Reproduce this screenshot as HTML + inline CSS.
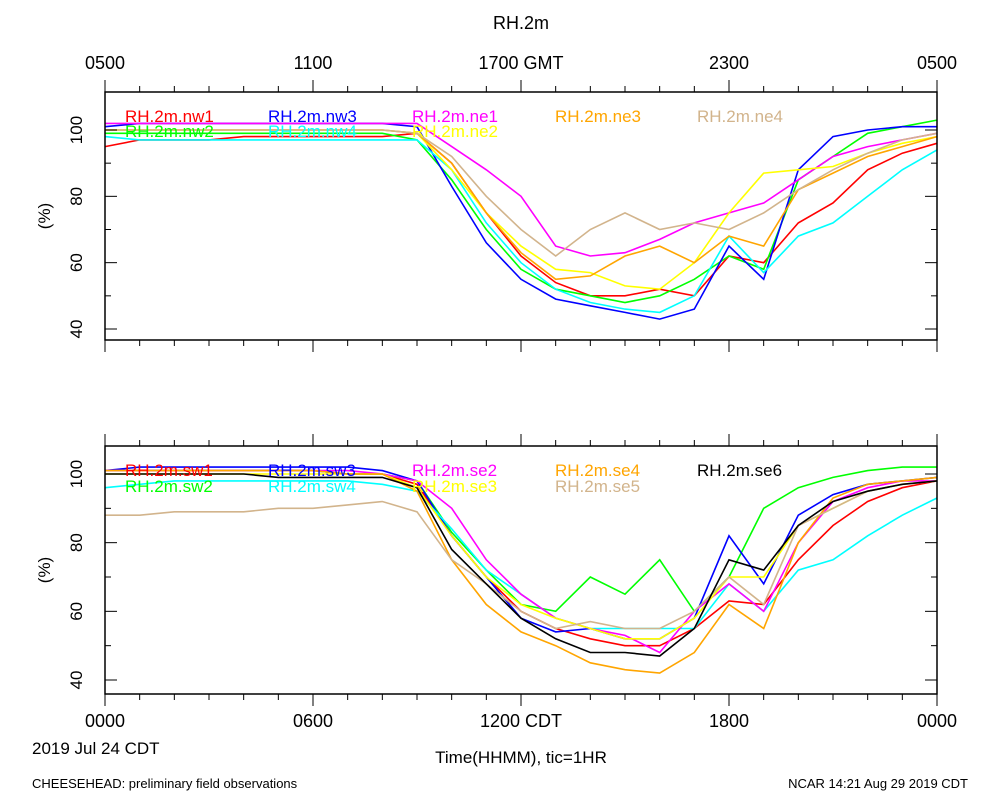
<!DOCTYPE html>
<html><head><meta charset="utf-8">
<style>
body{margin:0;background:#fff;}
svg{display:block;font-family:"Liberation Sans",sans-serif;}
</style></head>
<body>
<svg id="chart" width="1000" height="800">
<rect width="1000" height="800" fill="#fff"/>
<text x="521" y="29" font-size="18" text-anchor="middle">RH.2m</text>
<text x="32" y="754" font-size="17">2019 Jul 24 CDT</text>
<text x="521" y="763" font-size="17" text-anchor="middle">Time(HHMM), tic=1HR</text>
<text x="32" y="788" font-size="13">CHEESEHEAD: preliminary field observations</text>
<text x="968" y="788" font-size="13" text-anchor="end">NCAR 14:21 Aug 29 2019 CDT</text>
</svg>
<script>
const hours=[0,1,2,3,4,5,6,7,8,9,10,11,12,13,14,15,16,17,18,19,20,21,22,23,24];
const topNames=["RH.2m.nw1","RH.2m.nw2","RH.2m.nw3","RH.2m.nw4","RH.2m.ne1","RH.2m.ne2","RH.2m.ne3","RH.2m.ne4"];
const nw1=[95,97,97,97,98,98,98,98,98,99,90,75,62,54,50,50,52,50,62,60,72,78,88,93,96];
const nw2=[99,99,99,99,99,99,99,99,99,97,85,70,58,52,50,48,50,55,62,58,85,92,99,101,103];
const nw3=[101,102,102,102,102,102,102,102,102,101,83,66,55,49,47,45,43,46,65,55,88,98,100,101,101];
const nw4=[98,97,97,97,97,97,97,97,97,97,88,72,60,52,48,46,45,50,68,57,68,72,80,88,94];
const ne1=[102,102,102,102,102,102,102,102,102,102,95,88,80,65,62,63,67,72,75,78,85,92,95,97,99];
const ne2=[100,100,100,100,100,100,100,100,100,99,88,75,65,58,57,53,52,60,75,87,88,89,93,96,98];
const ne3=[100,100,100,100,100,100,100,100,100,99,90,75,63,55,56,62,65,60,68,65,82,87,92,95,98];
const ne4=[100,100,100,100,100,100,100,100,100,99,92,80,70,62,70,75,70,72,70,75,82,88,93,97,99];
const botNames=["RH.2m.sw1","RH.2m.sw2","RH.2m.sw3","RH.2m.sw4","RH.2m.se2","RH.2m.se3","RH.2m.se4","RH.2m.se5","RH.2m.se6"];
const sw1=[101,101,101,101,101,101,101,100,100,97,82,70,60,55,52,50,50,55,63,62,75,85,92,96,98];
const sw2=[101,101,101,101,101,101,101,100,100,98,83,72,62,60,70,65,75,60,70,90,96,99,101,102,102];
const sw3=[101,102,102,102,102,102,102,102,101,98,82,70,58,54,55,52,52,58,82,68,88,94,97,98,99];
const sw4=[96,97,98,98,98,98,98,98,97,95,84,72,65,58,55,55,55,55,68,60,72,75,82,88,93];
const se2=[101,101,101,101,101,101,101,101,100,98,90,75,65,58,55,53,48,60,68,60,80,92,96,98,98];
const se3=[100,100,100,100,100,100,100,100,100,96,82,70,62,58,55,52,52,58,70,70,85,90,95,97,98];
const se4=[101,101,101,101,101,101,101,100,100,95,75,62,54,50,45,43,42,48,62,55,80,93,97,98,99];
const se5=[88,88,89,89,89,90,90,91,92,89,75,68,60,55,57,55,55,60,70,62,85,90,95,97,98];
const se6=[100,100,100,100,100,99,99,99,99,96,78,68,58,52,48,48,47,55,75,72,85,92,95,97,98];
const yTicks=[40,60,80,100];
const topXLabels=["0500","1100","1700 GMT","2300","0500"];
const botXLabels=["0000","0600","1200 CDT","1800","0000"];

const NS="http://www.w3.org/2000/svg";
const svg=document.getElementById('chart');
function mk(tag,attrs,parent){const e=document.createElementNS(NS,tag);for(const k in attrs)e.setAttribute(k,attrs[k]);(parent||svg).appendChild(e);return e;}
const X0=105,X1=937;
function xs(h){return X0+(X1-X0)*h/24;}

function panel(cfg){
  const g=mk('g',{});
  
  
  const ys=v=>cfg.y40+(cfg.y100-cfg.y40)*(v-40)/60;
  // series
  cfg.series.forEach((s,i)=>{
    const d=hours.map((h,j)=>(j?'L':'M')+xs(h).toFixed(1)+' '+ys(s.vals[j]).toFixed(1)).join(' ');
    const p=mk('path',{d:d,fill:'none',stroke:s.color,'stroke-width':1.6},g);
    
    
  });
  // box
  const b=mk('rect',{x:X0,y:cfg.top,width:X1-X0,height:cfg.bot-cfg.top,fill:'none',stroke:'#000','stroke-width':1.5},g);
  
  
  // x ticks
  for(let h=0;h<=24;h++){
    const L=h%6===0?12:6,x=xs(h);
    mk('line',{x1:x,x2:x,y1:cfg.top,y2:cfg.top-L,stroke:'#000'},g);
    mk('line',{x1:x,x2:x,y1:cfg.bot,y2:cfg.bot+L,stroke:'#000'},g);
  }
  // y ticks
  for(let v=40;v<=100;v+=10){
    const L=v%20===0?12:6,y=ys(v);
    mk('line',{x1:X0,x2:X0+L,y1:y,y2:y,stroke:'#000'},g);
    mk('line',{x1:X1,x2:X1-L,y1:y,y2:y,stroke:'#000'},g);
  }
  yTicks.forEach(v=>{
    const t=mk('text',{x:0,y:0,'font-size':17,'text-anchor':'middle',transform:`translate(${X0-29},${ys(v)}) rotate(-90)`,dy:6},g);
    t.textContent=v;
    
    
  });
  const yt=mk('text',{x:0,y:0,'font-size':17,'text-anchor':'middle',transform:`translate(50,${(cfg.top+cfg.bot)/2}) rotate(-90)`},g);
  yt.textContent='(%)';
  
  
  cfg.xLabels.forEach((l,i)=>{
    const t=mk('text',{x:xs(i*6),y:cfg.xLabelY,'font-size':18,'text-anchor':'middle'},g);
    t.textContent=l;
    
    
  });
  cfg.series.forEach(s=>{
    const t=mk('text',{x:s.lx,y:s.ly,'font-size':17,fill:s.color},g);
    t.textContent=s.label;
    
    
  });
}
const c1=[125,268,412,555,697];
panel({name:'top-panel',top:92,bot:340,y40:329,y100:130,xLabels:topXLabels,xLabelY:69,series:[
 {label:topNames[0],vals:nw1,color:'#ff0000',lx:c1[0],ly:122},
 {label:topNames[1],vals:nw2,color:'#00ff00',lx:c1[0],ly:137},
 {label:topNames[2],vals:nw3,color:'#0000ff',lx:c1[1],ly:122},
 {label:topNames[3],vals:nw4,color:'#00ffff',lx:c1[1],ly:137},
 {label:topNames[4],vals:ne1,color:'#ff00ff',lx:c1[2],ly:122},
 {label:topNames[5],vals:ne2,color:'#ffff00',lx:c1[2],ly:137},
 {label:topNames[6],vals:ne3,color:'#ffa500',lx:c1[3],ly:122},
 {label:topNames[7],vals:ne4,color:'#d2b48c',lx:c1[4],ly:122}
]});
panel({name:'bottom-panel',top:446,bot:694,y40:680,y100:474,xLabels:botXLabels,xLabelY:727,series:[
 {label:botNames[0],vals:sw1,color:'#ff0000',lx:c1[0],ly:476},
 {label:botNames[1],vals:sw2,color:'#00ff00',lx:c1[0],ly:492},
 {label:botNames[2],vals:sw3,color:'#0000ff',lx:c1[1],ly:476},
 {label:botNames[3],vals:sw4,color:'#00ffff',lx:c1[1],ly:492},
 {label:botNames[4],vals:se2,color:'#ff00ff',lx:c1[2],ly:476},
 {label:botNames[5],vals:se3,color:'#ffff00',lx:c1[2],ly:492},
 {label:botNames[6],vals:se4,color:'#ffa500',lx:c1[3],ly:476},
 {label:botNames[7],vals:se5,color:'#d2b48c',lx:c1[3],ly:492},
 {label:botNames[8],vals:se6,color:'#000000',lx:c1[4],ly:476}
]});
</script>
</body></html>
